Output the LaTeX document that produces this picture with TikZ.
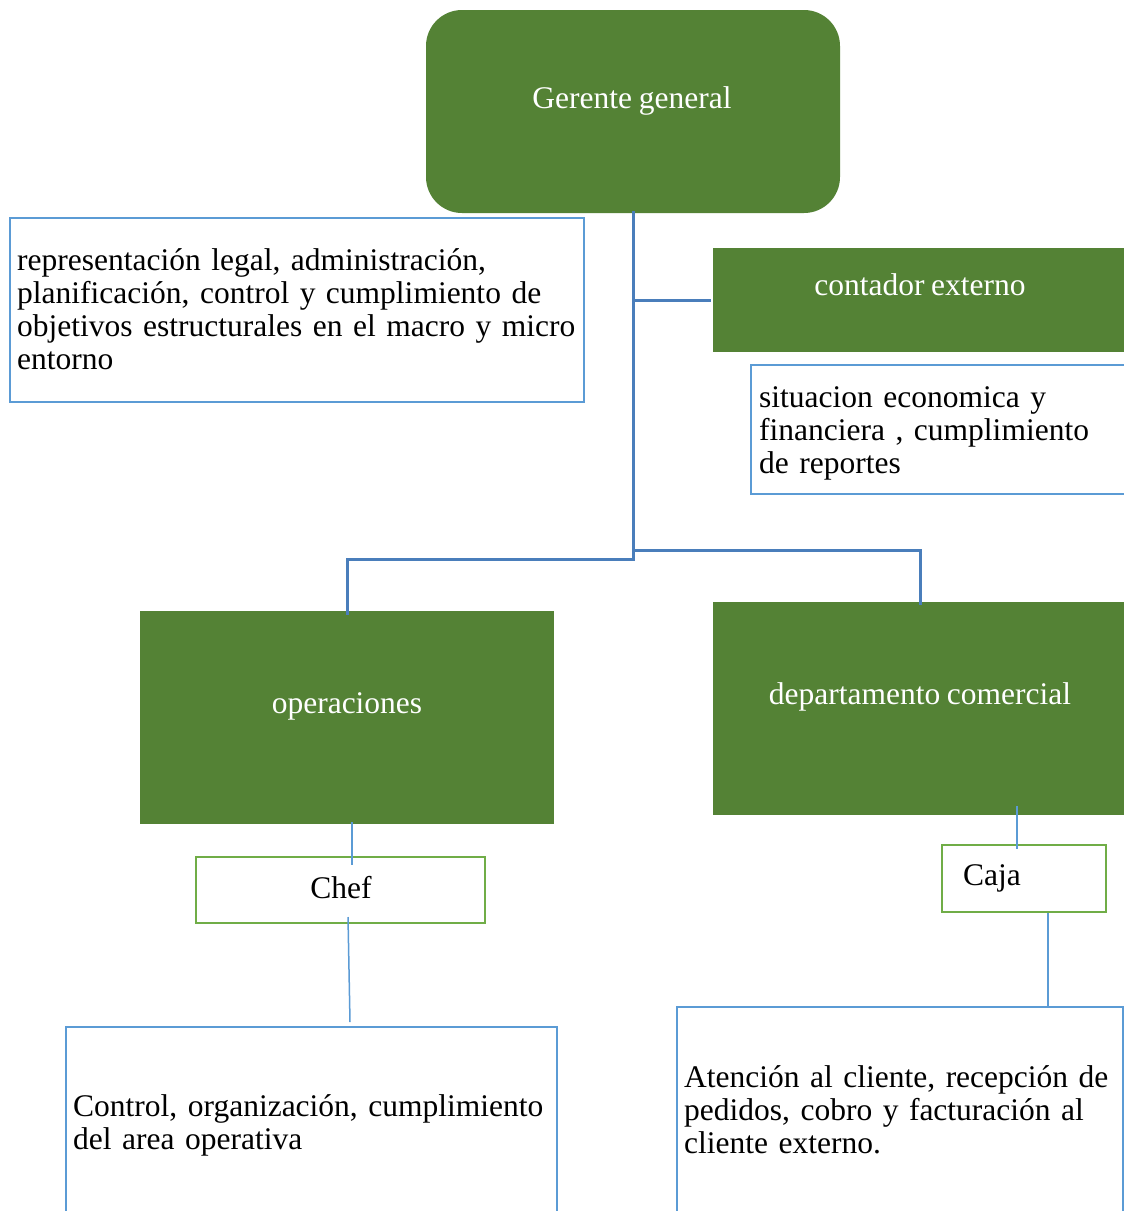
\documentclass[tikz,border=0pt]{standalone}
\usepackage{fontspec}
\setmainfont[WordSpace=0.85]{Liberation Serif}
\definecolor{gfill}{HTML}{548235}
\definecolor{conn}{HTML}{4A7EBB}
\definecolor{lblue}{HTML}{5B9BD5}
\definecolor{lgreen}{HTML}{70AD47}
\newcommand{\bodyfont}{\fontsize{31.5}{33}\selectfont}
\tikzset{
  gbox/.style={draw=none, fill=gfill, rectangle, inner sep=0pt},
  dbox/.style={draw=lblue, line width=2.5pt, fill=white, rectangle, inner sep=0pt},
  rbox/.style={draw=lgreen, line width=2.5pt, fill=white, rectangle, inner sep=0pt},
  wtxt/.style={text=white, inner sep=0pt, font=\bodyfont},
  btxt/.style={text=black, inner sep=0pt, font=\bodyfont, align=left},
  conline/.style={draw=conn, line width=3pt},
  thin/.style={draw=lblue, line width=1.5pt},
}
\begin{document}
\begin{tikzpicture}[x=1pt,y=-1pt]
\clip (0,0) rectangle (1124,1211);
\fill[white] (0,0) rectangle (1124,1211);
% top
\node[gbox, rounded corners=36pt, minimum width=414pt, minimum height=203pt] (ger) at (633,111.5) {};
\node[wtxt] (gert) at (632,101) {Gerente general};
% left description
\node[dbox, minimum width=574pt, minimum height=184pt] (d1) at (297,310) {};
\node[btxt, anchor=north west, text width=560pt] (d1t) at (17,248) {representación legal, administración,\\planificación, control y cumplimiento de\\objetivos estructurales en el macro y micro\\entorno};
% contador
\node[gbox, minimum width=414pt, minimum height=104pt] (cont) at (920,300) {};
\node[wtxt] (contt) at (920,285) {contador externo};
\node[dbox, minimum width=390pt, minimum height=129pt] (d2) at (946,429.5) {};
\node[btxt, anchor=north west, text width=380pt] (d2t) at (759,386) {situacion economica y\\financiera , cumplimiento\\de reportes};
% operaciones / departamento
\node[gbox, minimum width=414pt, minimum height=213pt] (ops) at (347,717.5) {};
\node[wtxt] (opst) at (347,706) {operaciones};
\node[gbox, minimum width=414pt, minimum height=213pt] (dep) at (920,708.5) {};
\node[wtxt] (dept) at (920,697) {departamento comercial};
% chef / caja
\node[rbox, minimum width=289pt, minimum height=66pt] (chef) at (340.5,890) {};
\node[btxt] (cheft) at (341,888) {Chef};
\node[rbox, minimum width=164pt, minimum height=67pt] (caja) at (1024,878.5) {};
\node[btxt, anchor=west] (cajat) at (963,878) {Caja};
% bottom boxes
\node[dbox, minimum width=491pt, minimum height=220pt] (d3) at (311.5,1137) {};
\node[btxt, anchor=north west, text width=480pt] (d3t) at (73,1094) {Control, organización, cumplimiento\\del area operativa};
\node[dbox, minimum width=446pt, minimum height=240pt] (d4) at (900,1127) {};
\node[btxt, anchor=north west, text width=430pt] (d4t) at (684,1065) {Atención al cliente, recepción de\\pedidos, cobro y facturación al\\cliente externo.};
% connectors
\coordinate (jl) at (633,559);
\coordinate (jc) at (633,300);
\coordinate (jr) at (633,550);
\draw[conline] ([yshift=2pt]ger.south) -- (jl) -| ([yshift=-4pt]ops.north);
\draw[conline] (jc) -- ([xshift=-2pt]cont.west);
\draw[conline] (jr) -| ([yshift=-3pt]dep.north);
\draw[thin] (352,822) -- (352,865);
\draw[thin] (348,917) -- (350,1022);
\draw[thin] (1017,806) -- (1017,849);
\draw[thin] (caja.south -| 1048,0) -- (d4.north -| 1048,0);
\end{tikzpicture}
\end{document}
